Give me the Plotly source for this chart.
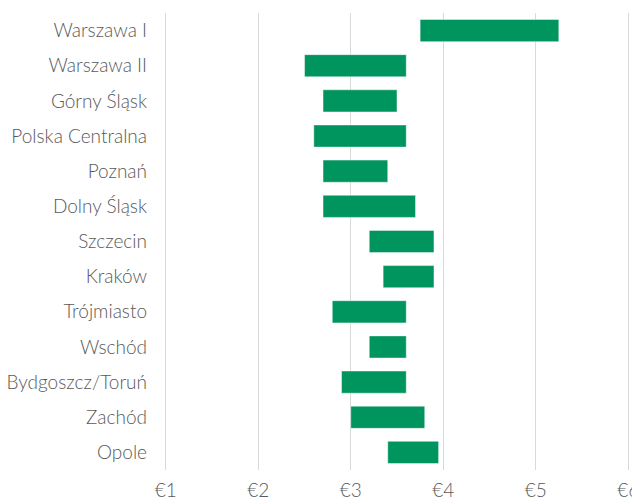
import plotly.graph_objects as go

regions = ["Warszawa I", "Warszawa II", "Górny Śląsk", "Polska Centralna", "Poznań",
           "Dolny Śląsk", "Szczecin", "Kraków", "Trójmiasto", "Wschód",
           "Bydgoszcz/Toruń", "Zachód", "Opole"]
low = [3.75, 2.5, 2.7, 2.6, 2.7, 2.7, 3.2, 3.35, 2.8, 3.2, 2.9, 3.0, 3.4]
high = [5.25, 3.6, 3.5, 3.6, 3.4, 3.7, 3.9, 3.9, 3.6, 3.6, 3.6, 3.8, 3.95]
tick_vals = [1, 2, 3, 4, 5, 6]
tick_text = ["€1", "€2", "€3", "€4", "€5", "€6"]

fig = go.Figure(go.Bar(
    y=regions,
    x=[h - l for l, h in zip(low, high)],
    base=low,
    orientation="h",
    width=0.63,
    marker=dict(color="#00945E", line=dict(color="rgba(255,255,255,0.45)", width=1)),
))

fig.update_layout(
    width=640, height=497,
    margin=dict(l=156, r=18, t=5, b=35, autoexpand=False),
    paper_bgcolor="white", plot_bgcolor="white",
    showlegend=False,
    font=dict(family="Lato", size=19, color="#595959", weight=300),
)
fig.update_xaxes(
    range=[0.98, 6.02], tickvals=tick_vals, ticktext=tick_text,
    showgrid=True, gridcolor="#d9d9d9", gridwidth=1.3,
    zeroline=False, showline=False, ticks="", ticklabelstandoff=7,
    automargin=False,
)
fig.update_yaxes(
    categoryorder="array", categoryarray=regions, autorange="reversed",
    showgrid=False, zeroline=False, showline=False, ticks="", ticklabelstandoff=16,
    automargin=False,
)
fig.write_html("out.html")
